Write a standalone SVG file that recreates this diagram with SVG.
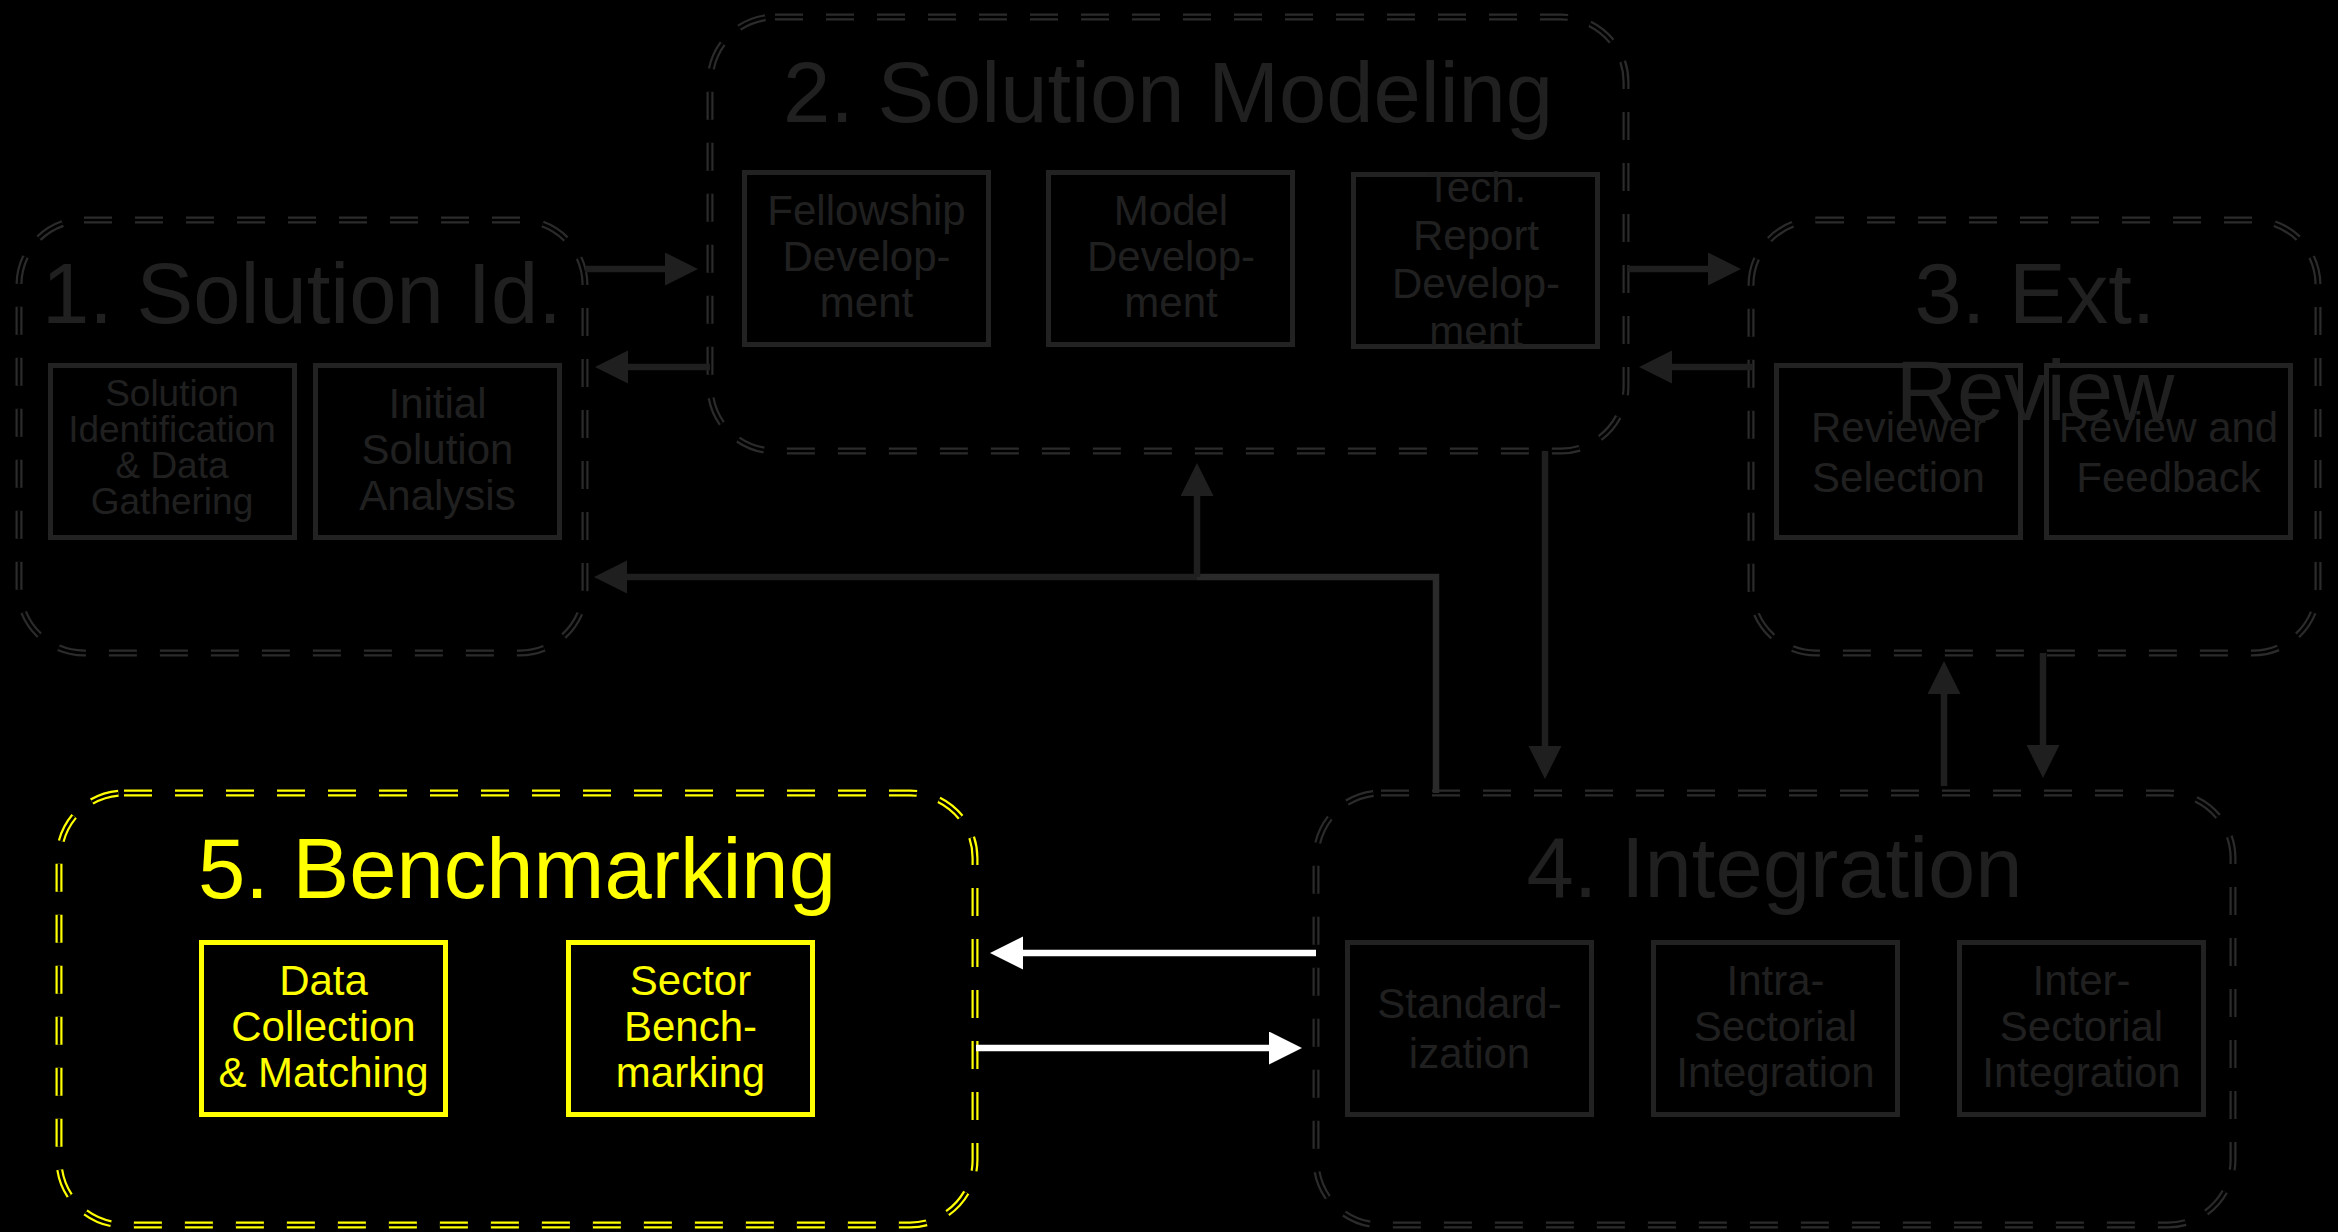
<svg xmlns="http://www.w3.org/2000/svg" width="2338" height="1232" viewBox="0 0 2338 1232">
  <defs>
    <marker id="head-gray" markerUnits="userSpaceOnUse" markerWidth="40" markerHeight="40" refX="3" refY="16.5" orient="auto">
      <path d="M0,0 L33,16.5 L0,33 Z" fill="#1f1f1f"/>
    </marker>
    <marker id="head-white" markerUnits="userSpaceOnUse" markerWidth="40" markerHeight="40" refX="3" refY="16.5" orient="auto">
      <path d="M0,0 L33,16.5 L0,33 Z" fill="#ffffff"/>
    </marker>
  </defs>
  <style>
    text { font-family: "Liberation Sans", Arial, sans-serif; text-anchor: middle; }
    .frame-o { fill: none; stroke: #2b2b2b; stroke-width: 7; stroke-dasharray: 28 23; }
    .frame-i { fill: none; stroke: #000; stroke-width: 2.6; stroke-dasharray: 28 23; }
    .frame-o.hl { stroke: #ffff00; }
    .box { fill: none; stroke: #222; stroke-width: 5; }
    .box.hl { stroke: #ffff00; }
    .title { font-size: 85px; fill: #202020; }
    .title.hl { fill: #ffff00; }
    .lbl { font-size: 42px; fill: #202020; }
    .lbl.small { font-size: 37px; }
    .lbl.hl { fill: #ffff00; }
    .conn { fill: none; stroke: #1f1f1f; stroke-width: 6.5; }
    .conn.light { stroke: #2a2a2a; }
    .conn.white { stroke: #ffffff; }
  </style>

  <rect x="0" y="0" width="2338" height="1232" fill="#000"/>

  <!-- Phase 1 -->
  <g id="solution-id">
    <rect class="frame-o" x="19" y="220" width="566" height="433" rx="65"/>
    <rect class="frame-i" x="19" y="220" width="566" height="433" rx="65"/>
    <text class="title" x="302" y="323">1. Solution Id.</text>
    <rect class="box" x="50.5" y="365.5" width="244" height="172"/>
    <text class="lbl small" x="172" y="406">Solution</text>
    <text class="lbl small" x="172" y="442">Identification</text>
    <text class="lbl small" x="172" y="478">&amp; Data</text>
    <text class="lbl small" x="172" y="514">Gathering</text>
    <rect class="box" x="315.5" y="365.5" width="244" height="172"/>
    <text class="lbl" x="437.5" y="418">Initial</text>
    <text class="lbl" x="437.5" y="464">Solution</text>
    <text class="lbl" x="437.5" y="510">Analysis</text>
  </g>

  <!-- Phase 2 -->
  <g id="solution-modeling">
    <rect class="frame-o" x="710" y="17" width="916" height="434" rx="65"/>
    <rect class="frame-i" x="710" y="17" width="916" height="434" rx="65"/>
    <text class="title" x="1168" y="122">2. Solution Modeling</text>
    <rect class="box" x="744.5" y="172.5" width="244" height="172"/>
    <text class="lbl" x="866.5" y="225">Fellowship</text>
    <text class="lbl" x="866.5" y="271">Develop-</text>
    <text class="lbl" x="866.5" y="317">ment</text>
    <rect class="box" x="1048.5" y="172.5" width="244" height="172"/>
    <text class="lbl" x="1171" y="225">Model</text>
    <text class="lbl" x="1171" y="271">Develop-</text>
    <text class="lbl" x="1171" y="317">ment</text>
    <rect class="box" x="1353.5" y="174.5" width="244" height="172"/>
    <text class="lbl" x="1476" y="202">Tech.</text>
    <text class="lbl" x="1476" y="250">Report</text>
    <text class="lbl" x="1476" y="298">Develop-</text>
    <text class="lbl" x="1476" y="346">ment</text>
  </g>

  <!-- Phase 3 -->
  <g id="external-review">
    <rect class="frame-o" x="1751" y="220" width="567" height="433" rx="65"/>
    <rect class="frame-i" x="1751" y="220" width="567" height="433" rx="65"/>
    <text class="title" x="2035" y="323">3. Ext.</text>
    <text class="title" x="2035" y="420">Review</text>
    <rect class="box" x="1776.5" y="365.5" width="244" height="172"/>
    <text class="lbl" x="1898.5" y="442">Reviewer</text>
    <text class="lbl" x="1898.5" y="492">Selection</text>
    <rect class="box" x="2046.5" y="365.5" width="244" height="172"/>
    <text class="lbl" x="2168.5" y="442">Review and</text>
    <text class="lbl" x="2168.5" y="492">Feedback</text>
  </g>

  <!-- Phase 4 -->
  <g id="integration">
    <rect class="frame-o" x="1316" y="793" width="917" height="432" rx="65"/>
    <rect class="frame-i" x="1316" y="793" width="917" height="432" rx="65"/>
    <text class="title" x="1774.5" y="897">4. Integration</text>
    <rect class="box" x="1347.5" y="942.5" width="244" height="172"/>
    <text class="lbl" x="1469.5" y="1018">Standard-</text>
    <text class="lbl" x="1469.5" y="1068">ization</text>
    <rect class="box" x="1653.5" y="942.5" width="244" height="172"/>
    <text class="lbl" x="1775.5" y="995">Intra-</text>
    <text class="lbl" x="1775.5" y="1041">Sectorial</text>
    <text class="lbl" x="1775.5" y="1087">Integration</text>
    <rect class="box" x="1959.5" y="942.5" width="244" height="172"/>
    <text class="lbl" x="2081.5" y="995">Inter-</text>
    <text class="lbl" x="2081.5" y="1041">Sectorial</text>
    <text class="lbl" x="2081.5" y="1087">Integration</text>
  </g>

  <!-- Phase 5 (highlighted) -->
  <g id="benchmarking">
    <rect class="frame-o hl" x="59" y="793" width="916" height="432" rx="65"/>
    <rect class="frame-i" x="59" y="793" width="916" height="432" rx="65"/>
    <text class="title hl" x="517" y="898">5. Benchmarking</text>
    <rect class="box hl" x="201.5" y="942.5" width="244" height="172"/>
    <text class="lbl hl" x="323.5" y="995">Data</text>
    <text class="lbl hl" x="323.5" y="1041">Collection</text>
    <text class="lbl hl" x="323.5" y="1087">&amp; Matching</text>
    <rect class="box hl" x="568.5" y="942.5" width="244" height="172"/>
    <text class="lbl hl" x="690.5" y="995">Sector</text>
    <text class="lbl hl" x="690.5" y="1041">Bench-</text>
    <text class="lbl hl" x="690.5" y="1087">marking</text>
  </g>

  <!-- Connectors -->
  <g id="connectors">
    <path class="conn" d="M585,269 H668" marker-end="url(#head-gray)"/>
    <path class="conn" d="M710,367 H625" marker-end="url(#head-gray)"/>
    <path class="conn" d="M1627,269 H1711" marker-end="url(#head-gray)"/>
    <path class="conn" d="M1752,367 H1669" marker-end="url(#head-gray)"/>
    <path class="conn light" d="M1436,793 V577 H1197"/>
    <path class="conn" d="M1197,577 V493" marker-end="url(#head-gray)"/>
    <path class="conn" d="M1197,577 H624" marker-end="url(#head-gray)"/>
    <path class="conn" d="M1545,451 V749" marker-end="url(#head-gray)"/>
    <path class="conn" d="M1944,786 V691" marker-end="url(#head-gray)"/>
    <path class="conn" d="M2043,653 V748" marker-end="url(#head-gray)"/>
    <path class="conn white" d="M1316,953 H1020" marker-end="url(#head-white)"/>
    <path class="conn white" d="M976,1048 H1272" marker-end="url(#head-white)"/>
  </g>
</svg>
